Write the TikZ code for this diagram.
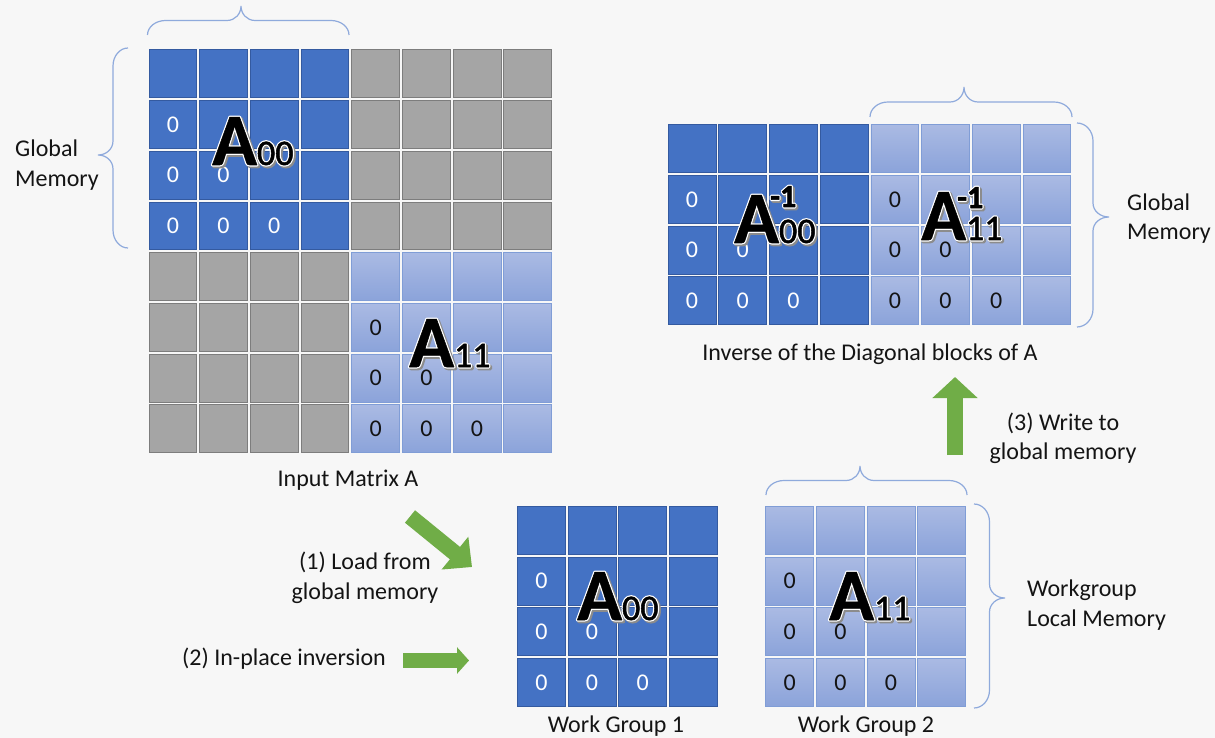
\documentclass[tikz,border=0pt]{standalone}
\usepackage{fontspec}
\setmainfont{Carlito}
\usetikzlibrary{arrows.meta,calc}
\definecolor{bg}{RGB}{247,247,247}
\definecolor{cblue}{RGB}{68,114,196}
\definecolor{cblueB}{RGB}{52,90,160}
\definecolor{cgray}{RGB}{165,165,165}
\definecolor{cgrayB}{RGB}{125,125,125}
\definecolor{lbT}{RGB}{170,186,227}
\definecolor{lbB}{RGB}{139,163,218}
\definecolor{lbD}{RGB}{128,157,214}
\definecolor{brc}{RGB}{143,170,220}
\definecolor{cgreen}{RGB}{112,173,71}
\definecolor{txt}{RGB}{20,20,20}
\tikzset{
 cellbase/.style={minimum size=47.8pt, inner sep=0pt, line width=0.9pt, font=\fontsize{24}{24}\selectfont},
 bluecell/.style={cellbase, fill=cblue, draw=cblueB, text=white},
 graycell/.style={cellbase, fill=cgray, draw=cgrayB},
 lightcell/.style={cellbase, top color=lbT, bottom color=lbB, draw=lbD, text=txt},
 lab/.style={font=\fontsize{24}{29.5}\selectfont, text=txt, inner sep=0pt},
 br/.style={draw=brc, line width=1.2pt},
 garrow/.style={draw=cgreen, line width=16pt, -{Triangle[width=44pt,length=21pt]}},
 olab/.style={anchor=base west, inner sep=0pt},
}
\newcommand\trx[2]{\special{pdf:literal direct q #1 w 1 j 2 Tr}#2\special{pdf:literal direct Q}}
\newcommand\outlab[3]{%
  \node[olab,text=black!45] at ($(#1)+(1.6,1.6)$) {\trx{3.4}{#3}};
  \node[olab,text=white] at (#1) {\trx{3}{#3}};
  \node[olab,text=black] (#2) at (#1) {\trx{0.5}{#3}};}
\newcommand\hbr[5]{%
  \draw[br] (#1,#4) .. controls (#1,{#4+0.55*(#5)}) and ({#1+8},{#4+(#5)}) .. ({#1+18},{#4+(#5)})
   -- ({#3-14},{#4+(#5)}) .. controls ({#3-6},{#4+(#5)}) and (#3,{#4+1.45*(#5)}) .. (#3,{#4+2*(#5)})
   .. controls (#3,{#4+1.45*(#5)}) and ({#3+6},{#4+(#5)}) .. ({#3+14},{#4+(#5)})
   -- ({#2-18},{#4+(#5)}) .. controls ({#2-8},{#4+(#5)}) and (#2,{#4+0.55*(#5)}) .. (#2,#4);}
\newcommand\vbr[5]{%
  \draw[br] (#4,#1) .. controls ({#4+0.55*(#5)},#1) and ({#4+(#5)},{#1+8}) .. ({#4+(#5)},{#1+18})
   -- ({#4+(#5)},{#3-14}) .. controls ({#4+(#5)},{#3-6}) and ({#4+1.45*(#5)},#3) .. ({#4+2*(#5)},#3)
   .. controls ({#4+1.45*(#5)},#3) and ({#4+(#5)},{#3+6}) .. ({#4+(#5)},{#3+14})
   -- ({#4+(#5)},{#2-18}) .. controls ({#4+(#5)},{#2-8}) and ({#4+0.55*(#5)},#2) .. (#4,#2);}
\newcommand\Aname[1]{{\fontsize{74}{74}\selectfont\bfseries A}{\fontsize{36}{36}\selectfont #1}}
\newcommand\Ainv{{\fontsize{32}{32}\selectfont\bfseries -1}}
\begin{document}
\begin{tikzpicture}[x=1pt,y=-1pt]
\useasboundingbox (0,0) rectangle (1215,738);
\fill[bg] (0,0) rectangle (1215,738);
% input matrix
\foreach \r in {0,...,7}{
 \foreach \c in {0,...,7}{
  \pgfmathtruncatemacro\br{\r/4}
  \pgfmathtruncatemacro\bc{\c/4}
  \pgfmathtruncatemacro\lr{\r-4*\br}
  \pgfmathtruncatemacro\lc{\c-4*\bc}
  \ifnum\br=\bc
   \ifnum\lc<\lr \def\z{0}\else\def\z{}\fi
   \ifnum\br=0
    \node[bluecell] (big-\r-\c) at ({172.85+50.7*\c},{73.85+50.7*\r}) {\z};
   \else
    \node[lightcell] (big-\r-\c) at ({172.85+50.7*\c},{73.85+50.7*\r}) {\z};
   \fi
  \else
   \node[graycell] (big-\r-\c) at ({172.85+50.7*\c},{73.85+50.7*\r}) {};
  \fi
 }}
% inverse matrix
\foreach \r in {0,...,3}{
 \foreach \c in {0,...,7}{
  \pgfmathtruncatemacro\bc{\c/4}
  \pgfmathtruncatemacro\lc{\c-4*\bc}
  \ifnum\lc<\r \def\z{0}\else\def\z{}\fi
  \ifnum\bc=0
   \node[bluecell] (inv-\r-\c) at ({692.05+50.7*\c},{148.65+50.7*\r}) {\z};
  \else
   \node[lightcell] (inv-\r-\c) at ({692.05+50.7*\c},{148.65+50.7*\r}) {\z};
  \fi
 }}
% work groups
\foreach \r in {0,...,3}{
 \foreach \c in {0,...,3}{
  \ifnum\c<\r \def\z{0}\else\def\z{}\fi
  \node[bluecell] (wa-\r-\c) at ({541.35+50.7*\c},{530.35+50.7*\r}) {\z};
  \node[lightcell] (wb-\r-\c) at ({789.65+50.7*\c},{530.35+50.7*\r}) {\z};
 }}
% big labels
\outlab{212,165}{labA00}{\Aname{00}}
\outlab{409,367}{labA11}{\Aname{11}}
\outlab{577,620}{labW00}{\Aname{00}}
\outlab{829,620}{labW11}{\Aname{11}}
\outlab{734,243}{labI00}{\Aname{00}}
\outlab{770,207}{labI00s}{\Ainv}
\outlab{921,240}{labI11}{\Aname{11}}
\outlab{957,208}{labI11s}{\Ainv}
% braces
\hbr{147.5}{349}{241}{35}{-14.5}
\hbr{870}{1072}{964}{117}{-15}
\hbr{766}{967}{860}{495}{-14.5}
\vbr{48}{248}{155}{128}{-15}
\vbr{123}{327}{217}{1077}{16}
\vbr{504}{708}{598}{974}{15.5}
% texts
\node[lab, anchor=base west, align=left] (gmL) at (15,186.5) {Global\\Memory};
\node[lab, anchor=base west, align=left] (gmR) at (1127,240) {Global\\Memory};
\node[lab, anchor=base west, align=left] (wlm) at (1027,626) {Workgroup\\Local Memory};
\node[lab, anchor=base] (inA) at (348,486) {Input Matrix A};
\node[lab, anchor=base] (invA) at (870,360) {Inverse of the Diagonal blocks of A};
\node[lab, anchor=base, align=center] (wr) at (1063,459.5) {(3) Write to\\global memory};
\node[lab, anchor=base, align=center] (ld) at (365,599) {(1) Load from\\global memory};
\node[lab, anchor=base] (ip) at (284,665) {(2) In-place inversion};
\node[lab, anchor=base] (wg1) at (616,732) {Work Group 1};
\node[lab, anchor=base] (wg2) at (866,732) {Work Group 2};
% green arrows
\coordinate (u0) at (955,455); \coordinate (u1) at (955,377);
\draw[garrow] (u0) -- (u1);
\coordinate (d0) at (410,516.5); \coordinate (d1) at (472,567);
\draw[garrow, -{Triangle[width=41pt,length=22pt]}] (d0) -- (d1);
\coordinate (h0) at (403,660.5); \coordinate (h1) at (469,660.5);
\draw[garrow, line width=15pt, -{Triangle[width=26pt,length=12pt]}] (h0) -- (h1);
\end{tikzpicture}
\end{document}
